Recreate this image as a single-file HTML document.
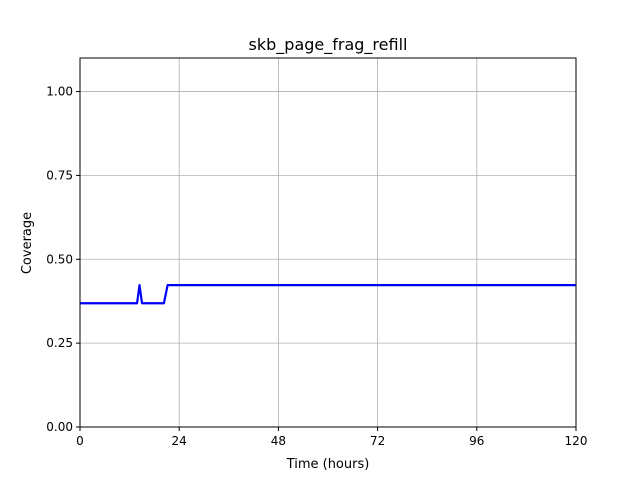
<!DOCTYPE html>
<html><head><meta charset="utf-8"><style>
body{margin:0;background:#fff;font-family:"Liberation Sans","DejaVu Sans",sans-serif;}
</style></head><body>
<svg id="chart" width="640" height="480" xmlns="http://www.w3.org/2000/svg" font-family="DejaVu Sans, Liberation Sans, sans-serif">
<rect width="640" height="480" fill="#fff"/>
<g id="grid"></g>
<g id="ticks"></g>
<polyline id="line" fill="none" stroke="#0000ff" stroke-width="2.2" stroke-linejoin="round"/>
<rect x="80" y="58" width="496" height="369" fill="none" stroke="#000" stroke-width="1"/>
<text x="328" y="50" text-anchor="middle" font-size="16">skb_page_frag_refill</text>
<text x="328" y="468" text-anchor="middle" font-size="13">Time (hours)</text>
<text x="31" y="243" text-anchor="middle" font-size="13" transform="rotate(-90 31 243)">Coverage</text>
</svg>
<script>
const times=[0,13.8,14.4,15.0,20.3,21.2,120];
const coverage=[0.369,0.369,0.423,0.369,0.369,0.423,0.423];
const xTicks=[0,24,48,72,96,120];
const yTicks=[0,0.25,0.5,0.75,1.0];
const yTickLabels=["0.00","0.25","0.50","0.75","1.00"];
const X0=80,X1=576,Y0=427,Y1=58;
const xs=v=>X0+(v-0)/(120-0)*(X1-X0);
const ys=v=>Y0-(v-0)/(1.1-0)*(Y0-Y1);
const NS="http://www.w3.org/2000/svg";
const grid=document.getElementById('grid'),ticks=document.getElementById('ticks');
function mk(tag,attrs,parent){const e=document.createElementNS(NS,tag);for(const k in attrs)e.setAttribute(k,attrs[k]);parent.appendChild(e);return e;}
xTicks.forEach(t=>{const x=xs(t);
const g=mk('line',{x1:x,x2:x,y1:Y1,y2:Y0,stroke:'#b0b0b0','stroke-width':0.8},grid);


mk('line',{x1:x,x2:x,y1:Y0,y2:Y0+4,stroke:'#000'},ticks);
const l=mk('text',{x:x,y:Y0+18,'text-anchor':'middle','font-size':12},ticks);l.textContent=t;

});
yTicks.forEach((t,i)=>{const y=ys(t);
const g=mk('line',{x1:X0,x2:X1,y1:y,y2:y,stroke:'#b0b0b0','stroke-width':0.8},grid);


mk('line',{x1:X0-4,x2:X0,y1:y,y2:y,stroke:'#000'},ticks);
const l=mk('text',{x:X0-7,y:y+4,'text-anchor':'end','font-size':12},ticks);l.textContent=yTickLabels[i];

});
document.getElementById('line').setAttribute('points',times.map((t,i)=>xs(t)+','+ys(coverage[i])).join(' '));
</script>
</body></html>
